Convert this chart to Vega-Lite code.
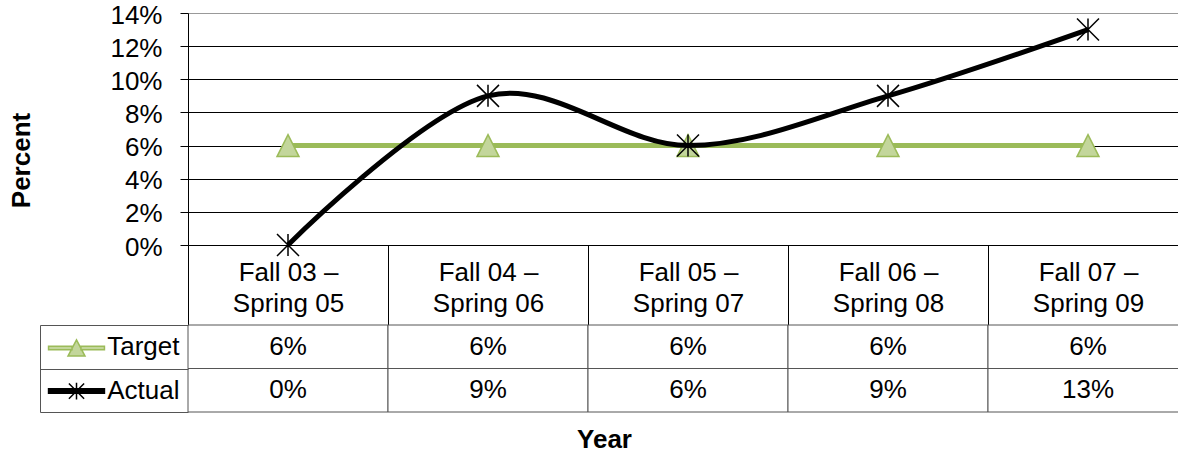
{
  "$schema": "https://vega.github.io/schema/vega-lite/v6.json",
  "background": "white",
  "padding": {"left": 8, "top": 2, "right": 0, "bottom": 0},
  "datasets": {
    "rates": [
      {"period": "Fall 03 – Spring 05", "series": "Target", "value": 0.06},
      {"period": "Fall 04 – Spring 06", "series": "Target", "value": 0.06},
      {"period": "Fall 05 – Spring 07", "series": "Target", "value": 0.06},
      {"period": "Fall 06 – Spring 08", "series": "Target", "value": 0.06},
      {"period": "Fall 07 – Spring 09", "series": "Target", "value": 0.06},
      {"period": "Fall 03 – Spring 05", "series": "Actual", "value": 0.0},
      {"period": "Fall 04 – Spring 06", "series": "Actual", "value": 0.09},
      {"period": "Fall 05 – Spring 07", "series": "Actual", "value": 0.06},
      {"period": "Fall 06 – Spring 08", "series": "Actual", "value": 0.09},
      {"period": "Fall 07 – Spring 09", "series": "Actual", "value": 0.13}
    ]
  },
  "data": {"name": "rates"},
  "bounds": "flush",
  "spacing": 80,
  "resolve": {
    "scale": {"color": "independent", "fill": "independent", "stroke": "independent", "shape": "independent"},
    "legend": {"color": "independent", "fill": "independent", "stroke": "independent", "shape": "independent"}
  },
  "config": {
    "view": {"stroke": null},
    "font": "Liberation Sans",
    "axis": {"labelFont": "Liberation Sans", "titleFont": "Liberation Sans", "labelColor": "#000", "titleColor": "#000"}
  },
  "vconcat": [
    {
      "width": 1000,
      "height": 232,
      "encoding": {
        "x": {
          "field": "period", "type": "nominal", "sort": null, "bandPosition": 0.5,
          "scale": {"type": "band", "paddingInner": 0, "paddingOuter": 0},
          "axis": {
            "title": null, "domain": true, "domainColor": "#000", "domainWidth": 1,
            "tickBand": "extent", "tickSize": 80, "tickColor": "#000",
            "labelFontSize": 26, "labelAngle": 0, "labelAlign": "center", "labelBaseline": "top",
            "labelPadding": -66, "labelLineHeight": 31,
            "labelExpr": "indexof(datum.label, ' – ') < 0 ? '' : [split(datum.label, ' – ')[0] + ' –', split(datum.label, ' – ')[1]]"
          }
        },
        "y": {
          "field": "value", "type": "quantitative",
          "scale": {"domain": [0, 0.14], "nice": false},
          "axis": {
            "title": "Percent", "titleFontSize": 26, "titleFontWeight": "bold", "titlePadding": 75, "titleY": 147,
            "values": [0, 0.02, 0.04, 0.06, 0.08, 0.1, 0.12, 0.14], "format": ".0%",
            "grid": true, "gridColor": {"condition": {"test": "datum.value > 0.13", "value": "#999"}, "value": "#000"}, "gridWidth": 1,
            "domainColor": "#000", "tickColor": "#000", "tickSize": 8,
            "labelFontSize": 26, "labelPadding": 18, "labelOffset": 2
          }
        },
        "color": {
          "field": "series", "type": "nominal",
          "scale": {"domain": ["Target", "Actual"], "range": ["#9bbb59", "#000000"]},
          "legend": null
        }
      },
      "layer": [
        {
          "transform": [{"filter": "datum.series === 'Target'"}],
          "mark": {"type": "line", "strokeWidth": 5}
        },
        {
          "transform": [{"filter": "datum.series === 'Target'"}],
          "mark": {"type": "point", "shape": "M0,-1L1,1H-1Z", "size": 484, "filled": false, "fill": "#c3d69b", "fillOpacity": 1, "strokeWidth": 1.5, "opacity": 1}
        },
        {
          "transform": [{"filter": "datum.series === 'Actual'"}],
          "mark": {"type": "line", "interpolate": "cardinal", "strokeWidth": 5}
        },
        {
          "transform": [{"filter": "datum.series === 'Actual'"}],
          "mark": {"type": "point", "shape": "M-1,-1L1,1M-1,1L1,-1M0,-1V1", "size": 484, "filled": false, "strokeWidth": 1.5, "opacity": 1}
        }
      ]
    },
    {
      "width": 1000,
      "height": 87,
      "layer": [
        {
          "mark": {"type": "rect", "fill": "#ffffff", "stroke": "#555555", "strokeWidth": 1},
          "encoding": {
            "x": {
              "field": "period", "type": "nominal", "sort": null,
              "scale": {"paddingInner": 0, "paddingOuter": 0},
              "axis": {"title": "Year", "labels": false, "ticks": false, "domain": false, "titleFontSize": 26, "titleFontWeight": "bold", "titlePadding": 14, "titleX": 416}
            },
            "y": {
              "field": "series", "type": "nominal", "sort": ["Target", "Actual"],
              "scale": {"paddingInner": 0, "paddingOuter": 0},
              "axis": {"orient": "left", "title": null, "domain": false, "tickBand": "extent", "tickSize": 148, "tickColor": "#555555", "labelFontSize": 26, "labelPadding": -139}
            }
          }
        },
        {
          "mark": {"type": "text", "fontSize": 26, "font": "Liberation Sans", "color": "#000000"},
          "encoding": {
            "x": {
              "field": "period", "type": "nominal", "sort": null,
              "scale": {"paddingInner": 0, "paddingOuter": 0},
              "axis": {"title": "Year", "labels": false, "ticks": false, "domain": false, "titleFontSize": 26, "titleFontWeight": "bold", "titlePadding": 14, "titleX": 416}
            },
            "y": {
              "field": "series", "type": "nominal", "sort": ["Target", "Actual"],
              "scale": {"paddingInner": 0, "paddingOuter": 0},
              "axis": {"orient": "left", "offset": 148, "title": null, "labels": false, "ticks": false, "domain": true, "domainColor": "#555555"}
            },
            "text": {"field": "value", "type": "quantitative", "format": ".0%"}
          }
        },
        {
          "mark": {"type": "point", "opacity": 0, "size": 500, "strokeWidth": 1.5},
          "encoding": {
            "x": {
              "field": "period", "type": "nominal", "sort": null,
              "scale": {"paddingInner": 0, "paddingOuter": 0},
              "axis": {"title": "Year", "labels": false, "ticks": false, "domain": false, "titleFontSize": 26, "titleFontWeight": "bold", "titlePadding": 14, "titleX": 416}
            },
            "y": {
              "field": "series", "type": "nominal", "sort": ["Target", "Actual"],
              "scale": {"paddingInner": 0, "paddingOuter": 0},
              "axis": null
            },
            "fill": {
              "field": "series", "type": "nominal",
              "scale": {"domain": ["Target", "Actual"], "range": ["#c3d69b", "#000000"]},
              "legend": {
                "orient": "none", "legendX": -123.5, "legendY": 11, "title": null, "padding": 0,
                "symbolSize": 500, "symbolStrokeWidth": 1.5, "symbolOpacity": 1, "labelOpacity": 0, "labelFontSize": 12, "labelExpr": "''", "rowPadding": 19.1
              }
            },
            "stroke": {
              "field": "series", "type": "nominal",
              "scale": {"domain": ["Target", "Actual"], "range": ["#9bbb59", "#000000"]},
              "legend": {
                "orient": "none", "legendX": -123.5, "legendY": 11, "title": null, "padding": 0,
                "symbolSize": 500, "symbolStrokeWidth": 1.5, "symbolOpacity": 1, "labelOpacity": 0, "labelFontSize": 12, "labelExpr": "''", "rowPadding": 19.1
              }
            },
            "shape": {
              "field": "series", "type": "nominal",
              "scale": {
                "domain": ["Target", "Actual"],
                "range": [
                  "M-2.5,-0.16H-0.4V0.16H-2.5ZM0.4,-0.16H2.5V0.16H0.4ZM0,-0.72L0.76,0.72H-0.76Z",
                  "M-2.5,-0.2H2.5V0.2H-2.5ZM-0.68,-0.68L0.68,0.68M-0.68,0.68L0.68,-0.68M0,-0.75V0.75"
                ]
              },
              "legend": {
                "orient": "none", "legendX": -123.5, "legendY": 11, "title": null, "padding": 0,
                "symbolSize": 500, "symbolStrokeWidth": 1.5, "symbolOpacity": 1, "labelOpacity": 0, "labelFontSize": 12, "labelExpr": "''", "rowPadding": 19.1,
                "encode": {
                  "symbols": {
                    "update": {
                      "strokeWidth": {"value": 1.5},
                      "opacity": {"value": 1},
                      "fillOpacity": {"value": 1},
                      "strokeOpacity": {"value": 1}
                    }
                  }
                }
              }
            }
          }
        }
      ],
      "resolve": {"axis": {"y": "independent"}}
    }
  ]
}
